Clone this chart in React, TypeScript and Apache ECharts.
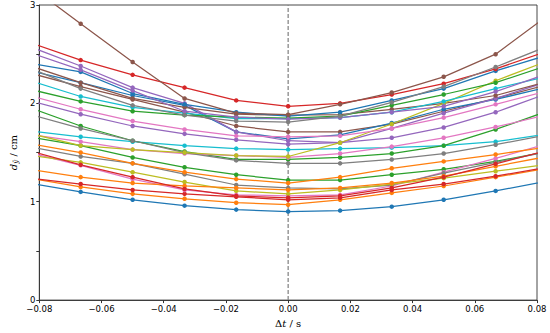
import React, { useEffect, useRef } from "react";
import * as echarts from "echarts";

// Time offsets (s) at which each curve is sampled (outer points lie just outside the view)
const dtValues = [-0.0833, -0.0667, -0.05, -0.0333, -0.0167, 0, 0.0167, 0.0333, 0.05, 0.0667, 0.0833];

// Curve values d (cm), grouped by colour cycle order
const bLow = [1.19, 1.10, 1.02, 0.96, 0.92, 0.90, 0.91, 0.95, 1.02, 1.11, 1.21];
const oLow = [1.24, 1.15, 1.08, 1.03, 0.99, 0.97, 1.02, 1.09, 1.16, 1.25, 1.34];
const gLow = [1.66, 1.57, 1.45, 1.35, 1.275, 1.22, 1.22, 1.275, 1.33, 1.41, 1.51];
const rLow = [1.24, 1.18, 1.12, 1.08, 1.05, 1.02, 1.04, 1.12, 1.18, 1.26, 1.35];
const pLow = [2.03, 1.89, 1.77, 1.69, 1.63, 1.585, 1.60, 1.65, 1.755, 1.91, 2.10];
const brLow = [2.31, 2.17, 2.04, 1.91, 1.77, 1.71, 1.71, 1.79, 1.92, 2.05, 2.19];
const pkLow = [1.50, 1.37, 1.23, 1.12, 1.07, 1.06, 1.07, 1.16, 1.30, 1.44, 1.59];
const gyLow = [1.56, 1.46, 1.39, 1.28, 1.17, 1.14, 1.13, 1.17, 1.29, 1.40, 1.51];
const olLow = [1.475, 1.40, 1.30, 1.20, 1.11, 1.08, 1.12, 1.18, 1.24, 1.31, 1.38];
const cLow = [1.72, 1.66, 1.61, 1.57, 1.54, 1.53, 1.54, 1.55, 1.57, 1.61, 1.69];

const bMid = [2.335, 2.21, 2.08, 1.98, 1.71, 1.64, 1.68, 1.80, 1.94, 2.04, 2.165];
const oMid = [1.33, 1.25, 1.19, 1.16, 1.14, 1.12, 1.14, 1.19, 1.26, 1.36, 1.46];
const gMid = [1.96, 1.77, 1.62, 1.51, 1.43, 1.43, 1.45, 1.49, 1.57, 1.735, 1.92];
const rMid = [1.52, 1.375, 1.25, 1.13, 1.06, 1.04, 1.06, 1.14, 1.25, 1.385, 1.52];
const pMid = [2.58, 2.38, 2.16, 2.00, 1.71, 1.62, 1.60, 1.745, 1.90, 2.05, 2.22];
const brMid = [2.385, 2.21, 2.05, 1.96, 1.89, 1.88, 1.885, 1.94, 2.00, 2.08, 2.22];
const pkMid = [1.685, 1.61, 1.53, 1.49, 1.47, 1.45, 1.49, 1.56, 1.65, 1.76, 1.885];
const gyMid = [1.89, 1.745, 1.62, 1.50, 1.42, 1.39, 1.39, 1.43, 1.49, 1.58, 1.68];
const olMid = [1.695, 1.57, 1.53, 1.50, 1.47, 1.46, 1.60, 1.79, 2.00, 2.23, 2.43];
const cMid = [2.235, 2.07, 1.96, 1.90, 1.845, 1.845, 1.855, 1.91, 2.02, 2.15, 2.275];

const bTop = [2.41, 2.32, 2.10, 1.99, 1.91, 1.87, 1.91, 2.03, 2.15, 2.33, 2.49];
const oTop = [1.59, 1.50, 1.39, 1.30, 1.23, 1.19, 1.25, 1.34, 1.41, 1.48, 1.555];
const gTop = [2.145, 2.02, 1.92, 1.88, 1.86, 1.85, 1.87, 1.98, 2.09, 2.21, 2.385];
const rTop = [2.62, 2.44, 2.29, 2.16, 2.03, 1.97, 2.00, 2.09, 2.20, 2.35, 2.53];
const pTop = [2.52, 2.34, 2.13, 1.92, 1.86, 1.84, 1.855, 1.91, 1.97, 2.12, 2.30];
const brTop = [3.20, 2.81, 2.42, 2.05, 1.90, 1.885, 1.99, 2.11, 2.27, 2.50, 2.89];
const pkTop = [2.08, 1.94, 1.82, 1.735, 1.67, 1.66, 1.67, 1.745, 1.855, 1.99, 2.125];
const gyTop = [2.36, 2.15, 1.98, 1.88, 1.82, 1.81, 1.87, 2.01, 2.17, 2.37, 2.58];

const curves = [
  bLow, oLow, gLow, rLow, pLow, brLow, pkLow, gyLow, olLow, cLow,
  bMid, oMid, gMid, rMid, pMid, brMid, pkMid, gyMid, olMid, cMid,
  bTop, oTop, gTop, rTop, pTop, brTop, pkTop, gyTop,
];

const palette = ["#1f77b4", "#ff7f0e", "#2ca02c", "#d62728", "#9467bd", "#8c564b", "#e377c2", "#7f7f7f", "#bcbd22", "#17becf"];

const xTicks = { min: -0.08, max: 0.08, step: 0.02 };
const yTicks = { min: 0, max: 3, step: 0.5 };

export default function App() {
  const ref = useRef<HTMLDivElement>(null);
  useEffect(() => {
    if (!ref.current) return;
    const chart = echarts.init(ref.current, undefined, { renderer: "svg" });
    const sans = "DejaVu Sans";
    const serif = "DejaVu Serif";
    const series: any[] = [
      {
        type: "line",
        data: [[0, yTicks.min], [0, yTicks.max]],
        symbol: "none",
        lineStyle: { color: "#888888", width: 1.3, type: [4, 2] },
        z: 1,
        silent: true,
      },
    ];
    curves.forEach((vals, i) => {
      series.push({
        type: "line",
        data: vals.map((v, j) => [dtValues[j], v]),
        symbol: "circle",
        symbolSize: 4.5,
        clip: true,
        color: palette[i % palette.length],
        lineStyle: { width: 1.25 },
        z: 2,
      });
    });
    chart.setOption({
      animation: false,
      backgroundColor: "#ffffff",
      grid: { left: 29, right: 13, top: 5, bottom: 30, show: true, borderColor: "#333", borderWidth: 0.9 },
      xAxis: {
        type: "value",
        min: xTicks.min,
        max: xTicks.max,
        interval: xTicks.step,
        axisLine: { show: true, onZero: false, lineStyle: { color: "#333", width: 0.9 } },
        axisTick: { show: true, length: 3, lineStyle: { color: "#333" } },
        splitLine: { show: false },
        axisLabel: {
          margin: 4,
          fontFamily: sans,
          fontSize: 8.5,
          color: "#000",
          showMinLabel: true,
          showMaxLabel: true,
          formatter: (v: number) => {
            const s = Math.abs(v).toFixed(2);
            return v < -1e-9 ? "\u2212" + s : s;
          },
        },
        name: "{d|\u0394}{i|t} / s",
        nameLocation: "middle",
        nameGap: 16,
        nameTextStyle: {
          fontFamily: serif,
          fontSize: 10,
          color: "#000",
          rich: {
            d: { fontFamily: serif, fontSize: 10, color: "#000" },
            i: { fontFamily: serif, fontStyle: "italic", fontSize: 10, color: "#000" },
          },
        },
      },
      yAxis: {
        type: "value",
        min: yTicks.min,
        max: yTicks.max,
        interval: yTicks.step,
        axisLine: { show: true, onZero: false, lineStyle: { color: "#333", width: 0.9 } },
        axisTick: { show: true, length: 3, lineStyle: { color: "#333" } },
        splitLine: { show: false },
        axisLabel: {
          margin: 4,
          fontFamily: sans,
          fontSize: 8.5,
          color: "#000",
          formatter: (v: number) => (Math.abs(v - Math.round(v)) < 1e-6 ? String(Math.round(v)) : ""),
        },
        name: "{i|d}{s|\u0233} / cm",
        nameLocation: "middle",
        nameGap: 9,
        nameRotate: 90,
        nameTextStyle: {
          fontFamily: serif,
          fontSize: 10,
          color: "#000",
          rich: {
            i: { fontFamily: serif, fontStyle: "italic", fontSize: 10, color: "#000" },
            s: { fontFamily: serif, fontStyle: "italic", fontSize: 7, color: "#000", padding: [5, 0, 0, 0] },
          },
        },
      },
      series,
    });
    return () => chart.dispose();
  }, []);
  return (
    <div
      ref={ref}
      style={{ position: "fixed", left: 0, top: 0, width: 550, height: 333, background: "#fff" }}
    />
  );
}
